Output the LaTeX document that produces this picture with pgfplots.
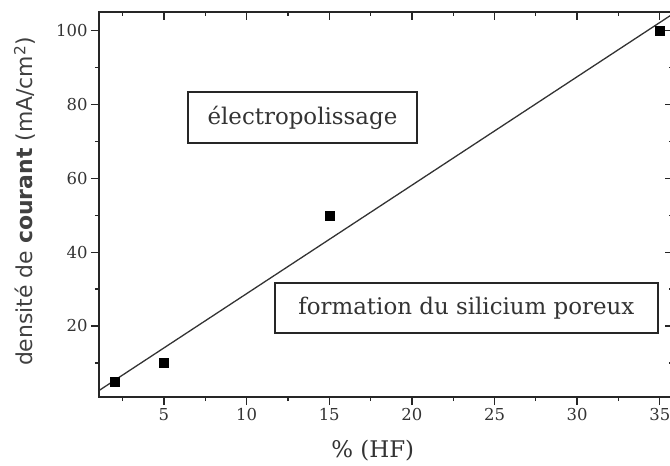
\documentclass[border=0pt]{standalone}
\usepackage{pgfplots}
\pgfplotsset{compat=1.18}
\usepackage{fontspec}
\setmainfont{DejaVu Serif}
\setsansfont{DejaVu Sans}
\pgfplotstableread{
x y
2 5
5 10
15 50
35 100
}\points
\pgfplotstableread{
x y
1.07 2.5
35.8 104.6
}\fitline
\begin{document}
\begin{tikzpicture}
\useasboundingbox (0,0) rectangle (670bp,466bp);
\pgfplotsset{
  common/.style={
    at={(99bp,69bp)}, anchor=south west,
    scale only axis, width=574bp, height=385bp,
    xmin=1.07, xmax=35.8, ymin=0.75, ymax=105.1,
    xtick={5,10,...,35}, ytick={20,40,...,100},
    minor xtick={2.5,7.5,...,35}, minor ytick={10,30,...,90},
    axis line style={line width=1.6bp, black!85},
    major tick style={line width=1.3bp, black!85},
    minor tick style={line width=1.3bp, black!85},
    major tick length=8bp, minor tick length=4bp,
  }
}
\begin{axis}[common,
  xtick pos=left, ytick pos=left, tick align=outside,
  /pgf/number format/assume math mode=true,
  ticklabel style={font=\fontsize{16.5}{19}\selectfont, text=black!80},
  xlabel={\% (HF)},
  xlabel style={at={(axis description cs:0.477,-0.140)}, anchor=center, font=\fontsize{23}{26}\selectfont, text=black!80},
  ylabel={densité de \textbf{courant} (mA/cm\textsuperscript{2})},
  ylabel style={at={(axis description cs:-0.129,0.508)}, anchor=center, font=\sffamily\fontsize{22}{25}\selectfont, text=black!75},
  clip=false,
]
\addplot[line width=1.3bp, black!80] table[x=x, y=y] {\fitline};
\addplot[only marks, mark=square*, mark size=4.5bp, black] table[x=x, y=y] {\points};
\node[draw=black!85, line width=1.3bp, fill=white, minimum width=229bp, minimum height=51bp, font=\fontsize{23}{26}\selectfont, text=black!80, inner sep=0pt] at (axis cs:13.38,76.5) {électropolissage};
\node[draw=black!85, line width=1.3bp, fill=white, minimum width=383bp, minimum height=50bp, font=\fontsize{23}{26}\selectfont, text=black!80, inner sep=0pt] at (axis cs:23.30,24.9) {formation du silicium poreux};
\end{axis}
\begin{axis}[common,
  xtick pos=right, ytick pos=right, tick align=inside,
  xticklabels={}, yticklabels={},
]
\end{axis}
\end{tikzpicture}
\end{document}
